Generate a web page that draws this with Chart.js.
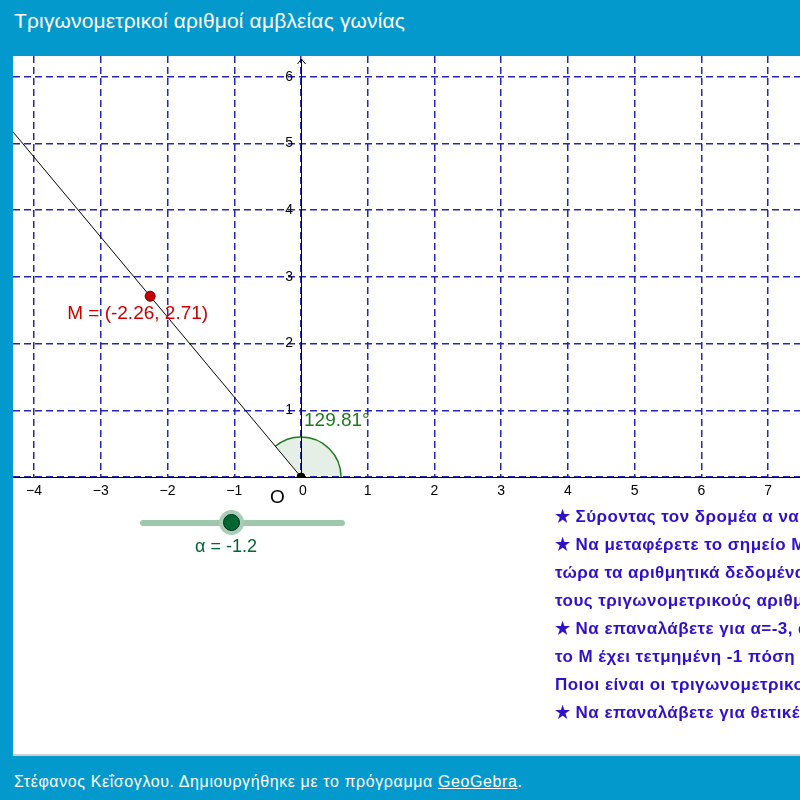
<!DOCTYPE html>
<html lang="el">
<head>
<meta charset="utf-8">
<script src="https://cdn.jsdelivr.net/npm/chart.js"></script>
<style>
    body { margin: 0; width: 800px; height: 800px; overflow: hidden; background: #0399cc; font-family: Arial, "Liberation Sans", sans-serif; }
    #title { position: absolute; left: 14px; top: 9px; color: #fff; font-size: 21px; letter-spacing: 0.15px; white-space: nowrap; }
    #panel { position: absolute; left: 13px; top: 56px; width: 787px; height: 698px; background: #fff; border-bottom: 2px solid #d0d0d0; overflow: hidden; }
    #panel canvas { position: absolute; left: 0; top: 0; }
    #notes { position: absolute; left: 542px; top: 447px; color: #3010c8; font-weight: bold; font-size: 17px; letter-spacing: 0.45px; line-height: 28px; white-space: nowrap; }
    #slider { position: absolute; left: 127px; top: 464px; width: 205px; height: 6px; border-radius: 3px; background: #9dc8ab; }
    #knob { position: absolute; left: 210px; top: 458px; width: 15px; height: 15px; border-radius: 50%; background: #006633; border: 1px solid #002a14; box-shadow: 0 0 0 4px #a9cdb6; }
    #alpha { position: absolute; left: 182px; top: 480px; color: #006633; font-size: 18px; }
    #footer { position: absolute; left: 14px; top: 773px; color: #fff; font-size: 16px; letter-spacing: 0.6px; white-space: nowrap; }
    #footer u { text-decoration: underline; }
</style>
</head>
<body>
<div id="title">Τριγωνομετρικοί αριθμοί αμβλείας γωνίας</div>
<div id="panel">
    <canvas id="myChart"></canvas>
    <div id="slider"></div>
    <div id="knob"></div>
    <div id="alpha">α = -1.2</div>
    <div id="notes"></div>
</div>
<div id="footer">Στέφανος Κεΐσογλου. Δημιουργήθηκε με το πρόγραμμα <u>GeoGebra</u>.</div>

<script>
    // view window and grid
    const xRange = [-4.315, 7.476];
    const yRange = [0, 6.312];
    const xTicks = [-4, -3, -2, -1, 0, 1, 2, 3, 4, 5, 6, 7];
    const yTicks = [0, 1, 2, 3, 4, 5, 6];
    const xTickLabels = ['\u22124', '\u22123', '\u22122', '\u22121', '0', '1', '2', '3', '4', '5', '6', '7'];
    const yTickLabels = ['', '1', '2', '3', '4', '5', '6'];

    // point M and angle
    const origin = {x: 0, y: 0};
    const pointM = {x: -2.26, y: 2.71};
    const angleDeg = 129.81;
    const arcRadius = 0.6;

    const notes = [
        '★ Σύροντας τον δρομέα α να παρατηρήσετε τις συντεταγμένες του Μ.',
        '★ Να μεταφέρετε το σημείο Μ στη θέση που θέλετε και να γράψετε',
        'τώρα τα αριθμητικά δεδομένα που χρειάζεστε για να υπολογίσετε',
        'τους τριγωνομετρικούς αριθμούς της γωνίας.',
        '★ Να επαναλάβετε για α=-3, α=-1 και α=-0.5. Όταν',
        'το Μ έχει τετμημένη -1 πόση είναι η τεταγμένη του;',
        'Ποιοι είναι οι τριγωνομετρικοί αριθμοί της γωνίας;',
        '★ Να επαναλάβετε για θετικές τιμές του α.'
    ];
    document.getElementById('notes').innerHTML = notes.join('<br>');

    const ctx = document.getElementById('myChart');

    const geoPlugin = {
        id: 'geo',
        beforeDatasetsDraw(chart) {
            const c = chart.ctx, xs = chart.scales.x, ys = chart.scales.y;
            const ox = xs.getPixelForValue(origin.x), oy = ys.getPixelForValue(origin.y);
            const r = xs.getPixelForValue(arcRadius) - ox;
            c.save();
            // angle sector
            c.beginPath();
            c.moveTo(ox, oy);
            c.arc(ox, oy, r, 0, -angleDeg * Math.PI / 180, true);
            c.closePath();
            c.fillStyle = 'rgba(0,100,0,0.1)';
            c.fill();
            c.beginPath();
            c.arc(ox, oy, r, 0, -angleDeg * Math.PI / 180, true);
            c.strokeStyle = '#1f7a1f';
            c.lineWidth = 1.5;
            c.stroke();
            // axes
            c.strokeStyle = '#000';
            c.lineWidth = 1;
            c.beginPath();
            c.moveTo(0, Math.round(oy) + 0.5);
            c.lineTo(chart.width, Math.round(oy) + 0.5);
            const ax = Math.round(ox) + 0.5;
            c.moveTo(ax, oy);
            c.lineTo(ax, chart.chartArea.top + 3);
            c.moveTo(ax - 4, chart.chartArea.top + 8);
            c.lineTo(ax, chart.chartArea.top + 3);
            c.lineTo(ax + 4, chart.chartArea.top + 8);
            c.stroke();
            c.restore();
        },
        afterDraw(chart) {
            const c = chart.ctx, xs = chart.scales.x, ys = chart.scales.y;
            const ox = xs.getPixelForValue(origin.x), oy = ys.getPixelForValue(origin.y);
            c.save();
            c.fillStyle = '#000';
            c.font = '14px Arial, "Liberation Sans", sans-serif';
            c.textAlign = 'center';
            c.textBaseline = 'middle';
            xTicks.forEach((v, i) => {
                const shift = v === 0 ? 2 : 0;
                c.fillText(xTickLabels[i], xs.getPixelForValue(v) + shift, oy + 14);
            });
            c.textAlign = 'right';
            yTicks.forEach((v, i) => {
                if (yTickLabels[i]) c.fillText(yTickLabels[i], ox - 8, ys.getPixelForValue(v));
            });
            c.font = '19px Arial, "Liberation Sans", sans-serif';
            c.textAlign = 'left';
            c.fillText('O', ox - 31, oy + 21);
            // labels
            c.fillStyle = '#cc0000';
            c.fillText('M = (' + pointM.x.toFixed(2) + ', ' + pointM.y.toFixed(2) + ')',
                xs.getPixelForValue(pointM.x) - 83, ys.getPixelForValue(pointM.y) + 18);
            c.fillStyle = '#1f7a1f';
            c.fillText(angleDeg.toFixed(2) + '°', ox + 3, oy - 56);
            c.restore();
        }
    };

    new Chart(ctx, {
        type: 'scatter',
        data: {
            datasets: [{
                label: 'O',
                data: [origin],
                pointRadius: 4,
                pointBackgroundColor: '#000',
                pointBorderColor: '#000',
                order: 0
            }, {
                label: 'M',
                data: [pointM],
                pointRadius: 5,
                pointBackgroundColor: '#cc0000',
                pointBorderColor: '#5a0000',
                pointBorderWidth: 1,
                order: 1
            }, {
                label: 'OM',
                type: 'line',
                data: [origin, {x: pointM.x * 3, y: pointM.y * 3}],
                borderColor: '#000',
                borderWidth: 1,
                pointRadius: 0,
                order: 2
            }]
        },
        options: {
            responsive: true,
            maintainAspectRatio: false,
            animation: false,
            events: [],
            layout: { autoPadding: false, padding: { left: 0, right: 0, top: 0, bottom: 277 } },
            plugins: { legend: { display: false }, tooltip: { enabled: false } },
            scales: {
                x: {
                    type: 'linear',
                    min: xRange[0],
                    max: xRange[1],
                    afterBuildTicks: s => { s.ticks = xTicks.map(v => ({value: v})); },
                    ticks: { display: false },
                    grid: { color: '#2626b0', lineWidth: 1.5, drawTicks: false },
                    border: { display: false, dash: [7, 4] }
                },
                y: {
                    type: 'linear',
                    min: yRange[0],
                    max: yRange[1],
                    afterBuildTicks: s => { s.ticks = yTicks.map(v => ({value: v})); },
                    ticks: { display: false },
                    grid: { color: '#2626b0', lineWidth: 1.5, drawTicks: false },
                    border: { display: false, dash: [7, 4] }
                }
            }
        },
        plugins: [geoPlugin]
    });
</script>
</body>
</html>
